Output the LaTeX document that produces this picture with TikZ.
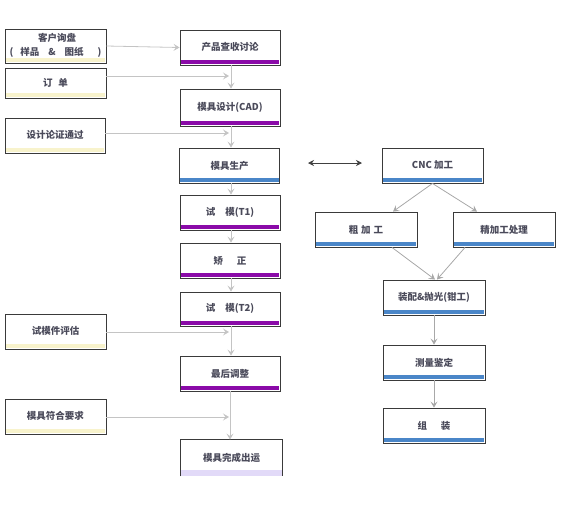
\documentclass[tikz,border=0pt]{standalone}
\usepackage{fontspec}
\setmainfont{Noto Sans CJK SC}
\usetikzlibrary{arrows.meta,calc}
\definecolor{bordc}{HTML}{3A3A3A}
\definecolor{txtc}{HTML}{4A4A5A}
\definecolor{yelbar}{HTML}{F8F3CC}
\definecolor{purbar}{HTML}{8A0AA8}
\definecolor{blubar}{HTML}{4A86C8}
\definecolor{lavbar}{HTML}{E2DAF8}
\definecolor{arrc}{HTML}{C4C4C4}
\definecolor{arrd}{HTML}{A8A8A8}
\begin{document}
\begin{tikzpicture}[x=1pt,y=-1pt,
  txt/.style={font=\fontsize{9.5}{11}\selectfont\bfseries,text=txtc},
  box/.style={txt,draw=bordc,line width=0.9pt,fill=white,minimum width=100pt,minimum height=35pt,inner sep=0pt},
  conn/.style={draw=arrc,line width=0.8pt,-{Stealth[length=6pt,width=7pt,inset=2.5pt]}},
  connd/.style={draw=arrd,line width=0.8pt,-{Stealth[length=6pt,width=7pt,inset=2.5pt]}},
  dbl/.style={draw=black!75,line width=0.8pt,{Stealth[length=6pt,width=6pt]}-{Stealth[length=6pt,width=6pt]}}
]
\useasboundingbox (0,0) rectangle (562,509);
\newcommand{\boxbar}[2]{\fill[#2] ($(#1.south west)+(1.2,-1)$) rectangle ($(#1.south east)+(-1.2,-5.5)$);}
% left column
\node[box,minimum width=101pt,minimum height=34pt] (A) at (55.5,46) {};
\node[txt] (At) at (57,38) {客户询盘};
\node[txt] (Ab) at (55.5,52) {(\hspace{7pt}样品\hspace{9pt}\&\hspace{9pt}图纸\hspace{14pt})};
\node[box,minimum width=101pt,minimum height=30pt] (B) at (55.5,83) {\raisebox{2pt}{订\hspace{6pt}单}};
\node[box,minimum width=100pt] (C) at (55,135.5) {\raisebox{2pt}{设计论证通过}};
\node[box,minimum width=101pt] (D) at (55.5,331.5) {\raisebox{2pt}{试模件评估}};
\node[box,minimum width=101pt] (E) at (55.5,416.5) {\raisebox{2pt}{模具符合要求}};
\foreach \n in {A,B,C,D,E}{\boxbar{\n}{yelbar}}
% center column
\node[box] (P1) at (230,47.5) {\raisebox{2pt}{产品查收讨论}};
\node[box,minimum height=37pt] (P2) at (230,107.5) {模具设计(CAD)};
\node[box] (P3) at (229.5,165.5) {模具生产};
\node[box] (P4) at (230,212.5) {试\hspace{10pt}模(T1)};
\node[box] (P5) at (230,260.5) {矫\hspace{14pt}正};
\node[box,minimum height=34pt] (P6) at (230,309) {\raisebox{3pt}{试\hspace{10pt}模(T2)}};
\node[box] (P7) at (230,373.5) {最后调整};
\node[box,draw=none,minimum width=101pt,minimum height=36pt] (P8) at (231.5,458) {\raisebox{2pt}{模具完成出运}};
\draw[bordc,line width=0.9pt] (P8.south west) -- (P8.north west) -- (P8.north east) -- (P8.south east);
\fill[lavbar] ($(P8.south west)+(0.5,0)$) rectangle ($(P8.south east)+(-0.5,-6)$);
\foreach \n in {P1,P2,P4,P5,P6,P7}{\boxbar{\n}{purbar}}
\boxbar{P3}{blubar}
% right column
\node[box,minimum width=101pt] (R1) at (432.5,165.5) {\raisebox{2pt}{CNC 加工}};
\node[box,minimum width=102pt] (R2) at (366,229.5) {粗\hspace{3pt}加\hspace{3pt}工};
\node[box,minimum width=102pt] (R3) at (504,229.5) {精加工处理};
\node[box,minimum width=102pt] (R4) at (434,297.5) {装配\&抛光(钳工)};
\node[box,minimum width=102pt] (R5) at (434,362.5) {测量鉴定};
\node[box,minimum width=102pt] (R6) at (434,425.5) {组\hspace{14pt}装};
\foreach \n in {R1,R2,R3,R4,R5,R6}{\boxbar{\n}{blubar}}
% connectors left -> center
\coordinate (jB) at (229,76);
\coordinate (jC) at (229,133);
\coordinate (jD) at (229,332);
\coordinate (jE) at (229,417);
\draw[conn] (A.east) -- (P1.west);
\draw[conn] (B.east |- jB) -- (jB);
\draw[conn] (C.east |- jC) -- (jC);
\draw[conn] (D.east |- jD) -- (jD);
\draw[conn] (E.east |- jE) -- (jE);
% center vertical
\draw[conn] ($(P1.south)+(1,0)$) -- ($(P2.north)+(1,0)$);
\draw[conn] ($(P2.south)+(1,0)$) -- ($(P3.north)+(1.5,0)$);
\draw[conn] ($(P3.south)+(1.5,0)$) -- ($(P4.north)+(1,0)$);
\draw[conn] ($(P4.south)+(1,0)$) -- ($(P5.north)+(1,0)$);
\draw[conn] ($(P5.south)+(1,0)$) -- ($(P6.north)+(1,0)$);
\draw[conn] ($(P6.south)+(1,0)$) -- ($(P7.north)+(1,0)$);
\draw[conn] ($(P7.south)+(0,0)$) -- ($(P8.north)+(-1.5,0)$);
% double arrow
\coordinate (dl) at (308,163);
\coordinate (dr) at (362,163);
\draw[dbl] (dl) -- (dr);
% right connectors
\draw[connd] (R1.south) -- ($(R2.north)+(27,0)$);
\draw[connd] (R1.south) -- ($(R3.north)+(-27,0)$);
\draw[connd] ($(R2.south)+(26,0)$) -- ($(R4.north)+(1,0)$);
\draw[connd] ($(R3.south)+(-39,0)$) -- ($(R4.north)+(3,0)$);
\draw[connd] (R4.south) -- (R5.north);
\draw[connd] (R5.south) -- (R6.north);
\end{tikzpicture}
\end{document}
